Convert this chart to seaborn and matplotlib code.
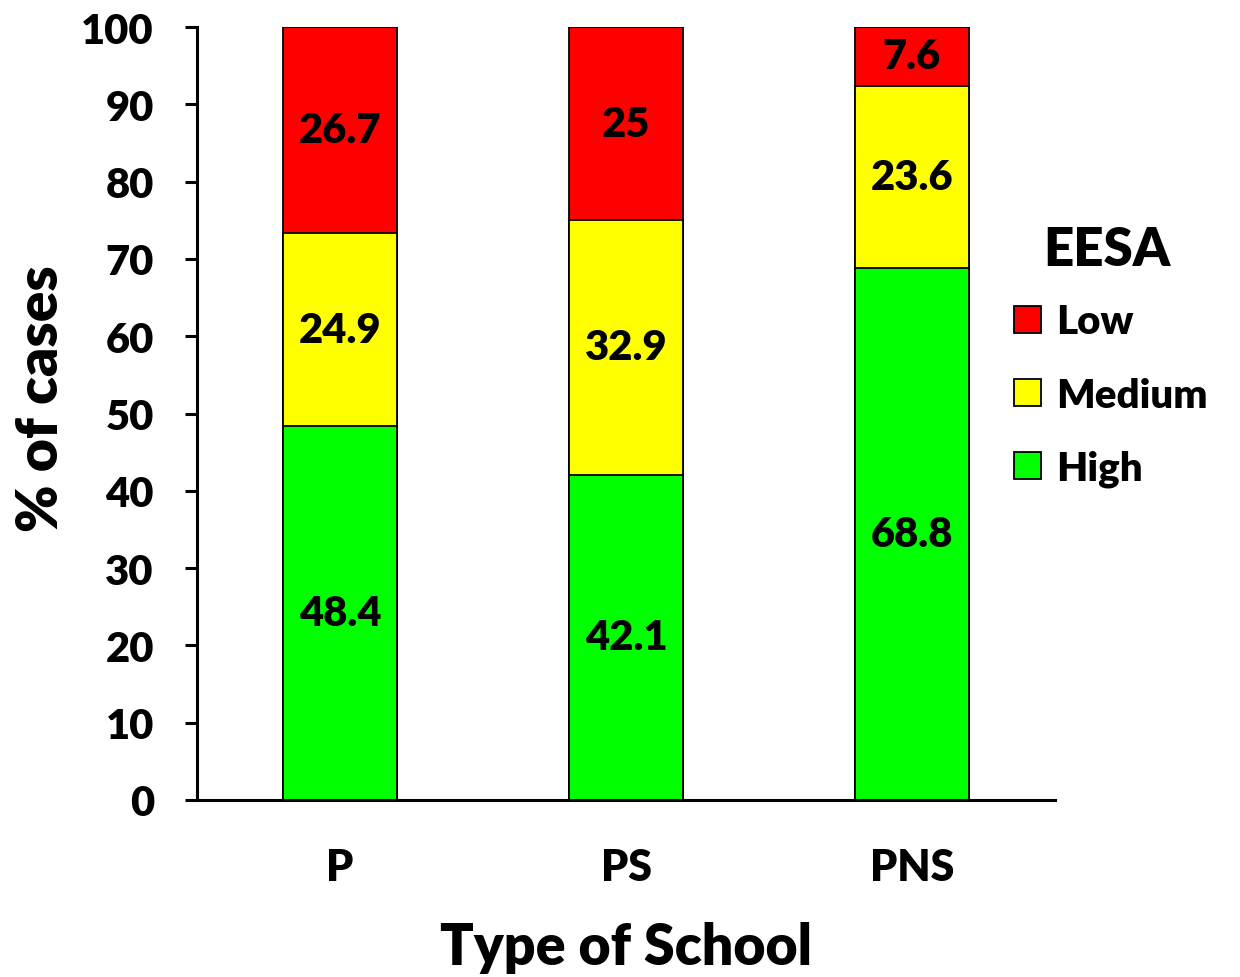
import numpy as np
import pandas as pd
import matplotlib
matplotlib.use("Agg")
import matplotlib.pyplot as plt
import seaborn as sns
from matplotlib.patches import Patch

# Podaci
schools = ["P", "PS", "PNS"]
high = [48.4, 42.1, 68.8]
medium = [24.9, 32.9, 23.6]
low = [26.7, 25.0, 7.6]
level_names = ["Low", "Medium", "High"]
level_colors = {"Low": "#FF0000", "Medium": "#FFFF00", "High": "#00FF00"}

df = pd.DataFrame({"school": schools, "High": high, "Medium": medium, "Low": low})
df["top_high"] = df["High"]
df["top_medium"] = df["High"] + df["Medium"]
df["top_low"] = df["High"] + df["Medium"] + df["Low"]

sns.set_style("white")
plt.rcParams["font.family"] = ["Lato", "DejaVu Sans"]
plt.rcParams["font.weight"] = "heavy"
for k in ["text.color", "axes.labelcolor", "xtick.color", "ytick.color"]:
    plt.rcParams[k] = "black"
W = "heavy"

fig = plt.figure(figsize=(12.4, 9.78), dpi=100)
ax = fig.add_axes([197 / 1240, 1 - 801 / 978, (1055 - 197) / 1240, (801 - 28) / 978])

# slaganje stupaca: najprije ukupni (crveni), pa srednji, pa visoki
for col, lvl in [("top_low", "Low"), ("top_medium", "Medium"), ("top_high", "High")]:
    sns.barplot(data=df, x="school", y=col, order=schools, color=level_colors[lvl],
                width=0.4, edgecolor="black", linewidth=1.3, saturation=1, errorbar=None, ax=ax)

# oznake vrijednosti
for i, s in enumerate(schools):
    row = df[df["school"] == s].iloc[0]
    bottom = 0
    for lvl in ["High", "Medium", "Low"]:
        v = row[lvl]
        ax.text(i, bottom + v / 2, f"{v:g}", ha="center", va="center", fontsize=30, fontweight=W)
        bottom += v

ax.set_xlim(-0.5, 2.5)
ax.set_ylim(0, 100)
ax.set_yticks(np.arange(0, 101, 10))
for sp in ["top", "right"]:
    ax.spines[sp].set_visible(False)
for sp in ["left", "bottom"]:
    ax.spines[sp].set_linewidth(2.2)
    ax.spines[sp].set_color("black")
ax.tick_params(axis="y", length=9, width=2.2, direction="out", pad=22, labelsize=30, left=True)
ax.tick_params(axis="x", length=0, pad=34, labelsize=31)
for lab in ax.get_xticklabels() + ax.get_yticklabels():
    lab.set_fontweight(W)

ax.set_xlabel("Type of School", fontsize=40, fontweight=W, labelpad=24)
ax.set_ylabel("% of cases", fontsize=41, fontweight=W, labelpad=10)
ax.yaxis.label.set_y(0.52)

# legenda (naslov posebno, radi razmaka kao u originalu)
handles = [Patch(facecolor=level_colors[l], edgecolor="black", linewidth=1.3) for l in level_names]
leg = fig.legend(handles, level_names, loc="upper left",
                 bbox_to_anchor=(978 / 1240, 1 - 268 / 978), frameon=False,
                 prop={"size": 29, "weight": W}, handlelength=0.66, handleheight=0.66,
                 handletextpad=0.38, labelspacing=0.9)
fig.text(1107 / 1240, 1 - 251 / 978, "EESA", ha="center", va="center", fontsize=38, fontweight=W)

fig.savefig("out.png", dpi=100)
